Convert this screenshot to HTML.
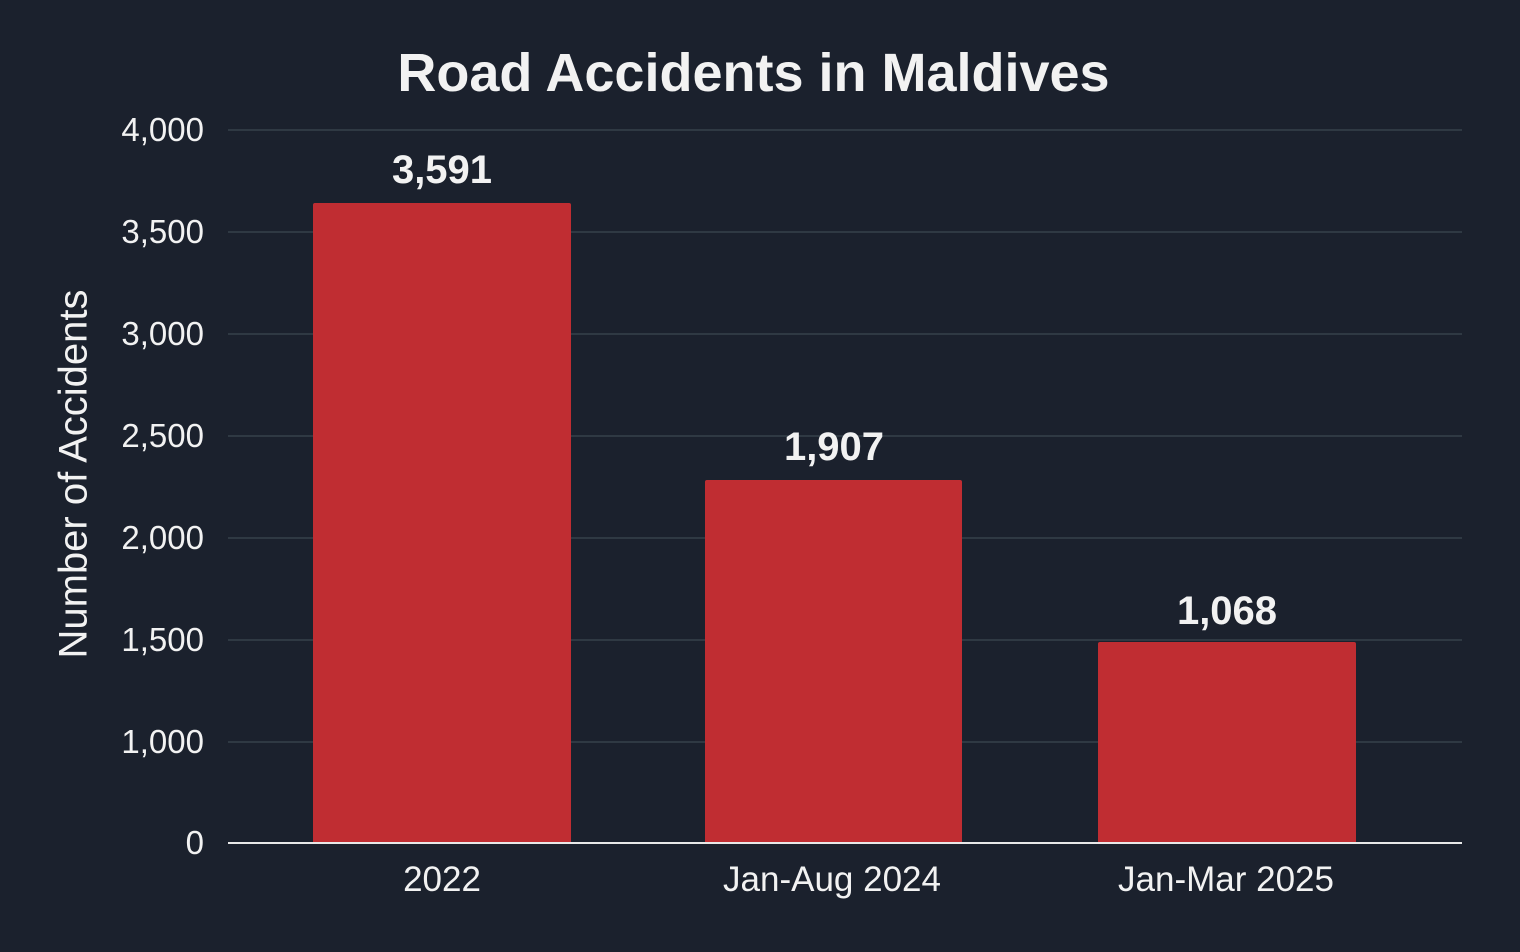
<!DOCTYPE html>
<html><head><style>
body{margin:0;width:1520px;height:952px;background:#1b212d;font-family:"Liberation Sans",sans-serif;color:#f2f2f2;position:relative;overflow:hidden}
.t{position:absolute;white-space:nowrap}
.g{position:absolute;left:228px;width:1234px;height:2px;background:#2f3943}
.yl{position:absolute;right:1316px;font-size:33px;transform:translateY(-50%)}
.bar{position:absolute;background:#c02d32;border-radius:2px 2px 0 0;bottom:109px}
.v{position:absolute;font-size:40px;font-weight:bold;transform:translateX(-50%)}
.x{position:absolute;font-size:35px;transform:translateX(-50%);top:860px}
</style></head><body>
<div class="t" style="left:0;width:1507px;text-align:center;top:42px;font-size:54px;font-weight:bold">Road Accidents in Maldives</div>
<div class="g" style="top:129px"></div>
<div class="g" style="top:231px"></div>
<div class="g" style="top:333px"></div>
<div class="g" style="top:435px"></div>
<div class="g" style="top:537px"></div>
<div class="g" style="top:639px"></div>
<div class="g" style="top:741px"></div>
<div class="yl" style="top:130px">4,000</div>
<div class="yl" style="top:232px">3,500</div>
<div class="yl" style="top:334px">3,000</div>
<div class="yl" style="top:436px">2,500</div>
<div class="yl" style="top:538px">2,000</div>
<div class="yl" style="top:640px">1,500</div>
<div class="yl" style="top:742px">1,000</div>
<div class="yl" style="top:843px">0</div>
<div class="t" style="left:74px;top:474px;font-size:40px;transform:translate(-50%,-50%) rotate(-90deg)">Number of Accidents</div>
<div class="bar" style="left:313px;width:258px;top:203px"></div>
<div class="bar" style="left:705px;width:257px;top:480px"></div>
<div class="bar" style="left:1098px;width:258px;top:642px"></div>
<div style="position:absolute;left:228px;width:1234px;top:842px;height:2px;background:#e8e8e8"></div>
<div class="v" style="left:442px;top:148px">3,591</div>
<div class="v" style="left:834px;top:425px">1,907</div>
<div class="v" style="left:1227px;top:589px">1,068</div>
<div class="x" style="left:442px">2022</div>
<div class="x" style="left:832px">Jan-Aug 2024</div>
<div class="x" style="left:1226px">Jan-Mar 2025</div>
</body></html>
